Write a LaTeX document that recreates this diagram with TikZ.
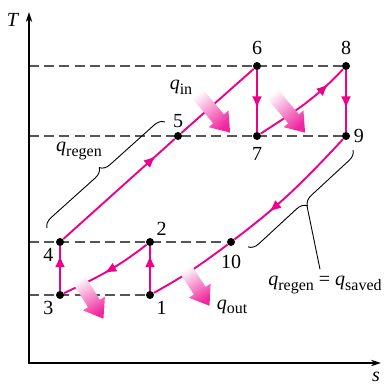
\documentclass[tikz,border=0pt]{standalone}
\usepackage{fontspec}
\setmainfont{Liberation Serif}
\usetikzlibrary{arrows.meta,decorations.pathreplacing,decorations.markings,backgrounds}
\definecolor{cyclepink}{HTML}{EC008C}
\definecolor{guidegray}{HTML}{555555}
\newcommand{\qsub}[1]{\textit{q}\raisebox{-0.5ex}{\fontsize{8}{9}\selectfont #1}}
\tikzset{
  statept/.style={circle, fill=black, inner sep=0pt, minimum size=4pt},
  guideline/.style={draw=guidegray, line width=0.65pt, dash pattern=on 5pt off 2.6pt},
  axisline/.style={draw=black, line width=0.7pt, {Stealth[length=5pt,width=3.2pt]}-{Stealth[length=5pt,width=3.2pt]}},
  processline/.style={draw=cyclepink, line width=0.95pt},
  midarrow/.style={processline, postaction={decorate},
    decoration={markings, mark=at position #1 with {\arrow[cyclepink]{Latex[length=6pt,width=5pt]}}}},
  midarrow/.default=0.6,
  bracemark/.style={draw=black, line width=0.45pt, decorate, decoration={brace, amplitude=5pt}},
  leader/.style={draw=black, line width=0.45pt},
  pics/heatarrow/.style 2 args={code={
    \pgfmathsetmacro\shadeang{#2-90}
    \shade[rotate=#2, bottom color=white, top color=cyclepink!85, shading angle=\shadeang]
      (0,-7) -- ({#1-18},-7) -- ({#1-18},-13) -- (#1,0) -- ({#1-18},13) -- ({#1-18},7) -- (0,7) -- cycle;
  }}
}

\begin{document}
\begin{tikzpicture}[x=0.5pt, y=0.5pt, font=\fontsize{10}{12}\selectfont, every label/.style={inner sep=1.5pt}]
\useasboundingbox (0,0) rectangle (384,386);
% axes
\coordinate (origin) at (29,23);
\coordinate (tmax) at (29,374);
\coordinate (smax) at (381,23);
\node (Tlbl) at (13,366) {\textit{T}};
\node (slbl) at (376,9) {\textit{s}};
% states
\node[statept, label=below right:1] (p1) at (150,91) {};
\node[statept, label=above right:2] (p2) at (150,144) {};
\node[statept, label=below left:3] (p3) at (60,91) {};
\node[statept, label=below left:4] (p4) at (60,144) {};
\node[statept, label={[label distance=0.5pt]above:5}] (p5) at (178,250) {};
\node[statept, label={[label distance=2pt]above:6}] (p6) at (257,320) {};
\node[statept, label={[label distance=2pt]below:7}] (p7) at (257,250) {};
\node[statept, label={[label distance=2pt]above:8}] (p8) at (346,320) {};
\node[statept, label=right:9] (p9) at (346,250) {};
\node[statept, label={[label distance=2.5pt]below:10}] (p10) at (231,144) {};

\begin{scope}[on background layer]
\draw[guideline] (origin |- p8) -- (p8);
\draw[guideline] (origin |- p9) -- (p9);
\draw[guideline] (origin |- p10) -- (p10);
\draw[guideline] (origin |- p1) -- (p1);
\end{scope}
\draw[axisline] (tmax) -- (origin) -- (smax);

% cycle
\draw[midarrow=0.8] (p1) -- (p2);
\draw[midarrow=0.53] (p2) to[out=-142, in=25] (p3);
\draw[midarrow=0.8] (p3) -- (p4);
\draw[midarrow=0.83] (p4) -- (p5);
\draw[processline] (p5) -- (p6);
\draw[midarrow=0.62] (p6) -- (p7);
\draw[midarrow=0.8] (p7) to[out=33, in=-133] (p8);
\draw[midarrow=0.62] (p8) -- (p9);
\draw[midarrow=0.7] (p9) to[out=-133, in=37] (p10);
\draw[processline] (p10) to[out=-143, in=29] (p1);

% heat
\pic at (196,294) {heatarrow={53}{-50}};
\pic at (271,294) {heatarrow={53}{-50}};
\pic at (78,108) {heatarrow={48}{-58}};
\pic at (185,118) {heatarrow={45}{-57}};
\node (qin) at (181,299) {\qsub{in}};
\node (qout) at (232,79) {\qsub{out}};
\node (qregen) at (79,235) {\qsub{regen}};
\node (qsaved) at (325,101) {\qsub{regen} = \qsub{saved}};

% regenerator braces
\coordinate (lb1) at (47,158);
\coordinate (lb2) at (165,264);
\draw[bracemark] (lb1) -- (lb2);
\coordinate (rb1) at (353,236);
\coordinate (rb2) at (248,139);
\draw[bracemark] (rb1) -- (rb2);
\coordinate (rtip) at (307,180);
\draw[leader] (rtip) -- ([xshift=-2.5pt]qsaved.north);
\end{tikzpicture}
\end{document}
